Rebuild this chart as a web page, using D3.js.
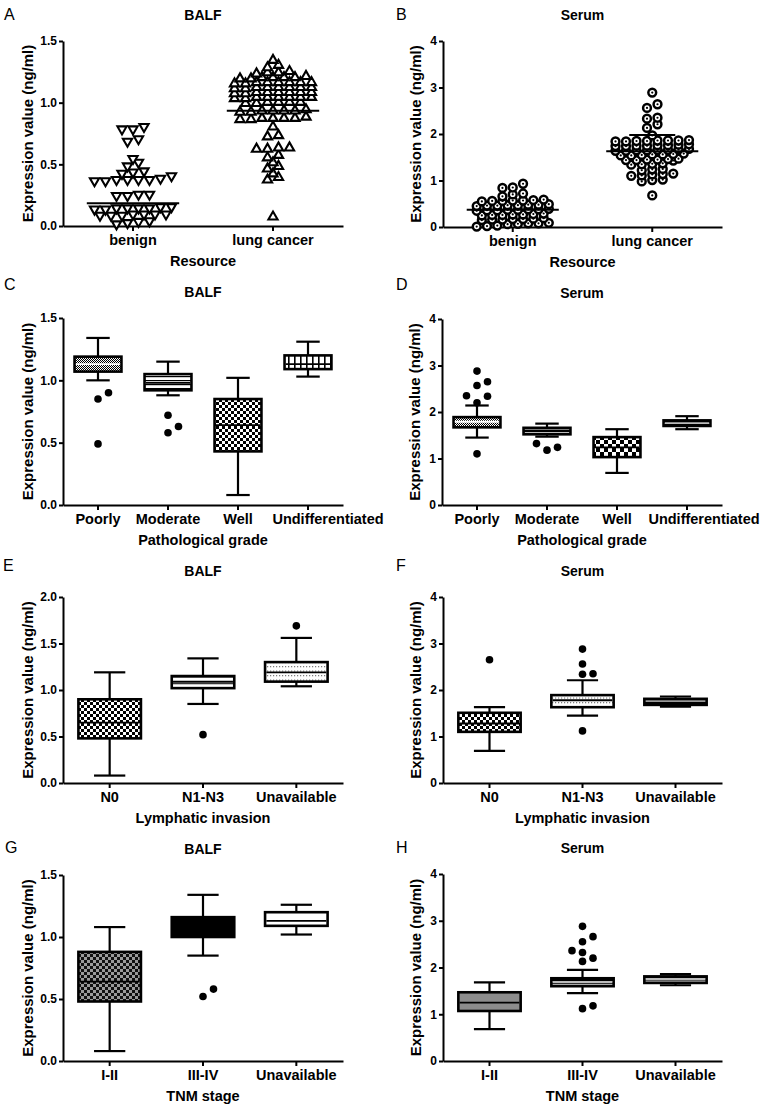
<!DOCTYPE html>
<html><head><meta charset="utf-8">
<script src="https://cdn.jsdelivr.net/npm/d3@7"></script>
<style>
body{margin:0;background:#fff;}
text{font-family:"Liberation Sans",Arial,sans-serif;}
</style></head><body>
<svg id="chart" width="768" height="1113"></svg>
<script>
// ================= DATA =================
// Panel A / B : Resource
const resourceCategories = ["benign", "lung cancer"];
const balfBenign = [0.80,0.78,0.78,0.70,0.68,0.54,0.51,0.48,0.44,0.43,0.42,
  0.40,0.38,0.37,0.37,0.37,0.37,0.36,0.36,
  0.25,0.24,0.24,0.25,0.15,0.14,0.14,0.13,0.14,0.15,0.14,0.13,0.09,0.08,0.09,0.08,0.09,0.08,0.09,0.03,0.02,0.035,0.01];
const balfLungCancer = [1.35,1.29,1.31,
  1.25,1.26,1.25,1.24,
  1.21,1.21,1.20,1.21,1.22,1.21,1.20,
  1.17,1.17,1.16,1.17,1.17,1.16,1.17,1.17,
  1.13,1.13,1.12,1.13,1.13,1.12,1.13,1.13,
  1.09,1.09,1.08,1.09,1.09,1.08,1.09,1.09,
  1.05,1.05,1.04,1.05,1.05,1.04,1.05,1.05,
  1.01,1.01,1.00,1.01,1.00,1.01,
  0.94,0.93,0.94,0.95,0.94,0.93,0.94,
  0.88,0.87,0.88,0.89,0.88,0.87,0.88,
  0.81,0.73,0.74,0.64,0.63,0.63,0.64,0.58,0.56,0.52,0.49,0.47,0.43,0.40,0.38,0.08];
const balfResourceLine = [0.185, 0.935];

const serumBenign = [0.93,0.85,0.84,0.72,0.70,0.66,
  0.57,0.55,0.58,0.56,0.59,0.57,0.56,
  0.47,0.45,0.48,0.46,0.49,0.47,0.46,0.48,
  0.37,0.35,0.38,0.36,0.39,0.37,0.36,0.38,
  0.27,0.25,0.28,0.26,0.29,0.27,0.26,
  0.17,0.15,0.18,0.16,0.19,0.17,0.16,
  0.08,0.06,0.09,0.07,0.08,
  0.02,0.01,0.03];
const serumLungCancer = [2.89,2.64,2.56,2.35,2.33,2.21,2.13,1.97,
  1.86,1.84,1.85,1.87,1.84,1.86,1.85,1.86,1.76,1.74,1.77,1.75,1.78,1.74,1.76,1.75,
  1.66,1.64,1.67,1.65,1.68,1.64,1.66,1.65,1.56,1.54,1.57,1.55,1.58,1.54,1.56,
  1.46,1.44,1.45,1.47,1.43,1.45,1.44,1.36,1.34,1.37,1.35,1.24,1.22,1.25,
  1.13,1.10,1.11,1.15,1.14,1.01,0.98,1.02,0.68];
const serumResourceMean = [0.37, 1.63];
const serumResourceUpperSD = [null, 1.98];

// Panels C / D : Pathological grade   box = [low whisker, Q1, median, Q3, high whisker]
const gradeCategories = ["Poorly", "Moderate", "Well", "Undifferentiated"];
const balfGradeBox = [[1.00,1.07,1.13,1.19,1.34],[0.88,0.92,0.98,1.05,1.15],[0.08,0.43,0.64,0.85,1.02],[1.03,1.09,1.13,1.20,1.31]];
const balfGradeOutliers = [[0.90,0.85,0.49],[0.72,0.63,0.58],[],[]];
const serumGradeBox = [[1.45,1.67,1.79,1.89,2.14],[1.47,1.52,1.60,1.66,1.75],[0.69,1.03,1.24,1.46,1.63],[1.63,1.70,1.76,1.82,1.91]];
const serumGradeOutliers = [[2.88,2.65,2.57,2.35,2.34,2.20,1.10],[1.32,1.24,1.18],[],[]];

// Panels E / F : Lymphatic invasion
const lymphCategories = ["N0", "N1-N3", "Unavailable"];
const balfLymphBox = [[0.08,0.48,0.65,0.90,1.19],[0.85,1.02,1.09,1.15,1.34],[1.04,1.09,1.19,1.30,1.56]];
const balfLymphOutliers = [[],[0.52],[1.69]];
const serumLymphBox = [[0.69,1.10,1.28,1.51,1.63],[1.45,1.63,1.78,1.89,2.21],[1.64,1.68,1.76,1.81,1.86]];
const serumLymphOutliers = [[2.65],[2.88,2.56,2.35,2.34,1.12],[]];

// Panels G / H : TNM stage
const tnmCategories = ["I-II", "III-IV", "Unavailable"];
const balfTnmBox = [[0.08,0.48,0.64,0.88,1.08],[0.85,1.00,1.07,1.16,1.34],[1.02,1.09,1.13,1.20,1.26]];
const balfTnmOutliers = [[],[0.52,0.58],[]];
const serumTnmBox = [[0.68,1.07,1.25,1.47,1.68],[1.45,1.60,1.68,1.77,1.95],[1.62,1.67,1.74,1.81,1.86]];
const serumTnmOutliers = [[],[2.88,2.66,2.55,2.36,2.32,2.20,2.13,1.18,1.12],[]];

const balfTicks = [0, 0.5, 1.0, 1.5];
const balfTicksE = [0, 0.5, 1.0, 1.5, 2.0];
const serumTicks = [0, 1, 2, 3, 4];

// ================= STYLE / LAYOUT =================
const svg = d3.select("#chart");
const defs = svg.append("defs");
function pattern(id, w, h, bg, shapes) {
  const p = defs.append("pattern").attr("id", id).attr("patternUnits", "userSpaceOnUse")
    .attr("width", w).attr("height", h);
  p.append("rect").attr("width", w).attr("height", h).attr("fill", bg);
  shapes.forEach(s => p.append("rect").attr("x", s[0]).attr("y", s[1]).attr("width", s[2]).attr("height", s[3]).attr("fill", s[4] || "#000"));
}
pattern("fine", 2, 2, "#fff", [[0,0,1,1],[1,1,1,1]]);
pattern("hlines", 4, 4, "#fff", [[0,0,4,1.2]]);
pattern("hlinesDense", 3, 3, "#000", [[0,0,3,1,"#bbb"]]);
pattern("hlinesWide", 6, 6.5, "#fff", [[0,0,6,1.5]]);
pattern("check", 6, 6, "#fff", [[0,0,3,3],[3,3,3,3]]);
pattern("checkBig", 8, 8, "#000", [[0,0,4,4,"#fff"],[4,4,4,4,"#fff"]]);
pattern("vbars", 6, 6, "#fff", [[0,0,1.6,6]]);
pattern("dotrows", 3, 4.5, "#fff", [[0,0,1.2,1.2,"#777"]]);
pattern("greyCheck", 6, 6, "#9a9a9a", [[0,0,3,3,"#111"],[3,3,3,3,"#111"]]);

const panels = [
  {letter:"A", x0:63, x1:343, yTop:41, yBot:226, letterX:4, letterY:20, titleX:28, title:"BALF", xTitle:"Resource",
   max:1.5, ticks:balfTicks, fmt:d3.format(".1f"), cats:resourceCategories, kind:"scatter",
   series:[balfBenign, balfLungCancer], marker:["down","up"], rowH:[5.5, 3.5], step:[11, 11], line:balfResourceLine},
  {letter:"B", x0:443, x1:722, yTop:41, yBot:227, letterX:396, letterY:20, titleX:416, title:"Serum", xTitle:"Resource",
   max:4, ticks:serumTicks, fmt:d3.format("d"), cats:resourceCategories, kind:"scatter",
   series:[serumBenign, serumLungCancer], marker:["ring","ring"], rowH:[4.2, 4.2], step:[10.3, 10.5], line:serumResourceMean, sd:serumResourceUpperSD},
  {letter:"C", x0:63, x1:343, yTop:318, yBot:505, letterX:4, letterY:290, titleX:28, title:"BALF", xTitle:"Pathological grade",
   max:1.5, ticks:balfTicks, fmt:d3.format(".1f"), cats:gradeCategories, kind:"box", lastShift:20,
   box:balfGradeBox, out:balfGradeOutliers, fills:["url(#fine)","url(#hlines)","url(#check)","url(#vbars)"], med:["#fff","#000","#000","#000"]},
  {letter:"D", x0:442, x1:722, yTop:319, yBot:505, letterX:396, letterY:290, titleX:415, title:"Serum", xTitle:"Pathological grade",
   max:4, ticks:serumTicks, fmt:d3.format("d"), cats:gradeCategories, kind:"box", lastShift:17,
   box:serumGradeBox, out:serumGradeOutliers, fills:["url(#fine)","url(#hlinesDense)","url(#checkBig)","url(#hlinesDense)"], med:["#fff","#000","#000","#bbb"]},
  {letter:"E", x0:63, x1:343, yTop:597, yBot:783, letterX:3, letterY:571, titleX:28, title:"BALF", xTitle:"Lymphatic invasion",
   max:2, ticks:balfTicksE, fmt:d3.format(".1f"), cats:lymphCategories, kind:"box",
   box:balfLymphBox, out:balfLymphOutliers, fills:["url(#check)","url(#hlinesWide)","url(#dotrows)"], med:["#000","#000","#000"]},
  {letter:"F", x0:443, x1:722, yTop:597, yBot:783, letterX:396, letterY:571, titleX:416, title:"Serum", xTitle:"Lymphatic invasion",
   max:4, ticks:serumTicks, fmt:d3.format("d"), cats:lymphCategories, kind:"box",
   box:serumLymphBox, out:serumLymphOutliers, fills:["url(#check)","url(#dotrows)","#000"], med:["#000","#000","#999"]},
  {letter:"G", x0:63, x1:343, yTop:875, yBot:1061, letterX:5, letterY:853, titleX:28, title:"BALF", xTitle:"TNM stage",
   max:1.5, ticks:balfTicks, fmt:d3.format(".1f"), cats:tnmCategories, kind:"box",
   box:balfTnmBox, out:balfTnmOutliers, fills:["url(#greyCheck)","#000","#fff"], med:["#000","#000","#000"]},
  {letter:"H", x0:443, x1:722, yTop:874, yBot:1061, letterX:396, letterY:853, titleX:416, title:"Serum", xTitle:"TNM stage",
   max:4, ticks:serumTicks, fmt:d3.format("d"), cats:tnmCategories, kind:"box",
   box:serumTnmBox, out:serumTnmOutliers, fills:["#8c8c8c","url(#hlinesDense)","url(#hlinesDense)"], med:["#000","#bbb","#bbb"]}
];

// row-based dot arrangement (Prism-like scatter dot plot)
function rowSwarm(values, y, rowH, step) {
  const pts = values.map(v => ({v, py: y(v)})).sort((a, b) => b.py - a.py);
  const rows = []; let cur = null;
  pts.forEach(p => {
    if (!cur || cur.start - p.py > rowH) { cur = {start: p.py, items: []}; rows.push(cur); }
    cur.items.push(p);
  });
  rows.forEach(r => { const n = r.items.length; r.items.forEach((p, i) => p.dx = (i - (n - 1) / 2) * step); });
  return pts;
}
// collision dodge for box-plot outliers
function dodge(values, y, dist, step) {
  const placed = [];
  values.slice().sort((a, b) => a - b).forEach(v => {
    const py = y(v);
    for (let k = 0; k < 20; k++) {
      const cands = k === 0 ? [0] : [k * step, -k * step];
      const dx = cands.find(c => placed.every(q => Math.hypot(q.dx - c, q.py - py) >= dist));
      if (dx !== undefined) { placed.push({v, py, dx}); break; }
    }
  });
  return placed;
}

const markerPath = {
  down: "M-4.6,-3.4L4.6,-3.4L0,4.6Z",
  up: "M-4.6,3.4L4.6,3.4L0,-4.6Z"
};

panels.forEach(p => {
  const g = svg.append("g");
  const y = d3.scaleLinear().domain([0, p.max]).range([p.yBot, p.yTop]);
  const x = d3.scaleBand().domain(p.cats).range([p.x0, p.x1]);
  const cx = c => x(c) + x.bandwidth() / 2;

  // panel letter & title
  g.append("text").attr("x", p.letterX).attr("y", p.letterY).attr("font-size", 16).text(p.letter);
  g.append("text").attr("x", (p.x0 + p.x1) / 2).attr("y", p.yTop - 21).attr("text-anchor", "middle")
    .attr("font-size", 14).attr("font-weight", "bold").text(p.title);

  // axes
  const ya = g.append("g").attr("transform", `translate(${p.x0},0)`)
    .call(d3.axisLeft(y).tickValues(p.ticks).tickFormat(p.fmt).tickSize(4).tickSizeOuter(0).tickPadding(2));
  ya.selectAll("text").attr("font-size", 12).attr("font-weight", "bold").attr("font-family", "Liberation Sans, Arial, sans-serif");
  const xa = g.append("g").attr("transform", `translate(0,${p.yBot})`)
    .call(d3.axisBottom(x).tickSize(5).tickSizeOuter(0).tickPadding(4));
  xa.selectAll("text").attr("font-size", 14.5).attr("font-weight", "bold").attr("font-family", "Liberation Sans, Arial, sans-serif");
  if (p.lastShift) xa.selectAll(".tick text").filter((d, i, n) => i === n.length - 1).attr("dx", p.lastShift);
  [ya, xa].forEach(a => { a.select(".domain").attr("stroke-width", 2).attr("stroke", "#000");
    a.selectAll(".tick line").attr("stroke-width", 2).attr("stroke", "#000"); });

  g.append("text").attr("transform", `translate(${p.titleX},${(p.yTop + p.yBot) / 2}) rotate(-90)`)
    .attr("text-anchor", "middle").attr("dy", "0.35em").attr("font-size", 15).attr("font-weight", "bold")
    .text("Expression value (ng/ml)");
  g.append("text").attr("x", (p.x0 + p.x1) / 2).attr("y", p.yBot + 40).attr("text-anchor", "middle")
    .attr("font-size", 14.5).attr("font-weight", "bold").text(p.xTitle);

  if (p.kind === "scatter") {
    const lw = x.bandwidth() * 0.66;
    p.series.forEach((vals, i) => {
      const c = cx(p.cats[i]);
      const ring = p.marker[i] === "ring";
      const pts = rowSwarm(vals, y, p.rowH[i], p.step[i]);
      const mg = g.append("g");
      pts.forEach(pt => {
        const t = `translate(${c + pt.dx},${pt.py})`;
        if (ring) {
          mg.append("circle").attr("transform", t).attr("r", 3.9).attr("fill", "#fff").attr("stroke", "#000").attr("stroke-width", 2.5);
          mg.append("circle").attr("transform", t).attr("r", 1.1).attr("fill", "#000");
        } else {
          mg.append("path").attr("transform", t).attr("d", markerPath[p.marker[i]]).attr("fill", "#fff")
            .attr("stroke", "#000").attr("stroke-width", 2.1);
        }
      });
      g.append("line").attr("x1", c - lw / 2).attr("x2", c + lw / 2).attr("y1", y(p.line[i])).attr("y2", y(p.line[i]))
        .attr("stroke", "#000").attr("stroke-width", 2);
      if (p.sd && p.sd[i] != null) {
        g.append("line").attr("x1", c - lw / 4).attr("x2", c + lw / 4).attr("y1", y(p.sd[i])).attr("y2", y(p.sd[i]))
          .attr("stroke", "#000").attr("stroke-width", 2);
      }
    });
  } else {
    const bw = x.bandwidth() * 0.67, cw = bw * 0.5;
    p.box.forEach((b, i) => {
      const c = cx(p.cats[i]);
      const [lo, q1, med, q3, hi] = b;
      const line = (x1, y1, x2, y2, col, w) => g.append("line").attr("x1", x1).attr("y1", y1).attr("x2", x2).attr("y2", y2)
        .attr("stroke", col || "#000").attr("stroke-width", w || 2.2);
      line(c, y(hi), c, y(q3)); line(c, y(q1), c, y(lo));
      line(c - cw / 2, y(hi), c + cw / 2, y(hi)); line(c - cw / 2, y(lo), c + cw / 2, y(lo));
      g.append("rect").attr("x", c - bw / 2).attr("y", y(q3)).attr("width", bw).attr("height", y(q1) - y(q3))
        .attr("fill", p.fills[i]).attr("stroke", "#000").attr("stroke-width", 2.6);
      line(c - bw / 2 + 1.3, y(med), c + bw / 2 - 1.3, y(med), p.med[i], 1.8);
      dodge(p.out[i], y, 8, 10.5).forEach(o => {
        g.append("circle").attr("cx", c + o.dx).attr("cy", o.py).attr("r", 3.8).attr("fill", "#000");
      });
    });
  }
});
</script>
</body></html>
